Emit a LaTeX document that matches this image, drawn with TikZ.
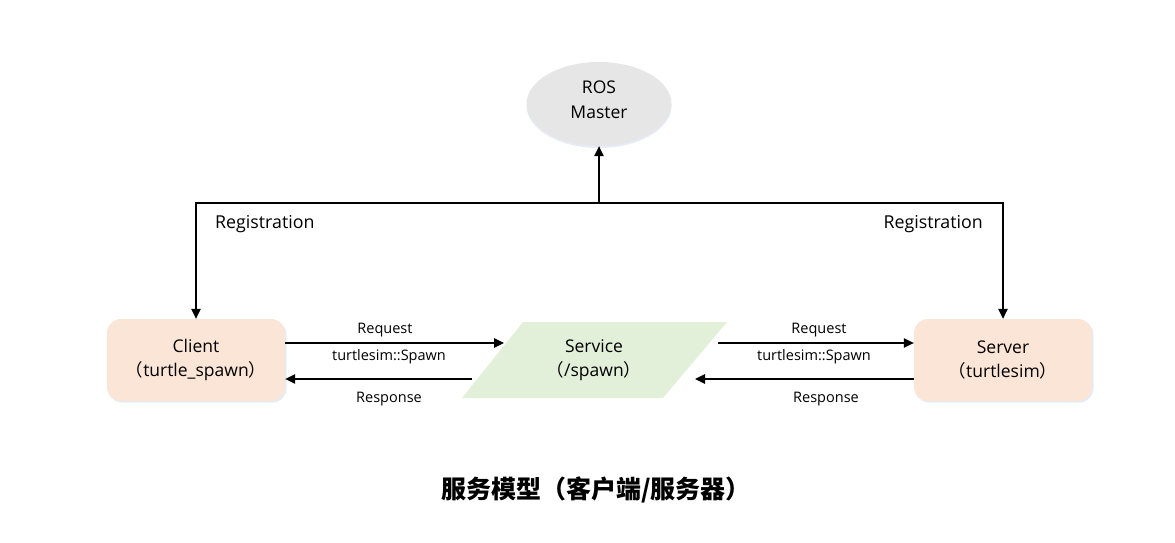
\documentclass[tikz,border=0pt]{standalone}
\usepackage{fontspec}
\setmainfont{Open Sans}
\newfontfamily\cjk{Noto Sans CJK SC}
\usetikzlibrary{arrows.meta,shapes.geometric}
\definecolor{peach}{RGB}{251,229,214}
\definecolor{mint}{RGB}{226,239,217}
\definecolor{mastergray}{RGB}{231,230,230}
\definecolor{glow}{RGB}{229,236,245}
\tikzset{
  arr/.style={line width=1.2pt,-{Triangle[length=10pt,width=9.5pt]}},
  procbox/.style={rounded corners=14pt,fill=peach,minimum width=178pt,minimum height=82pt,
    align=center,font=\fontsize{17.5}{24}\selectfont,inner sep=0pt},
  lbl/.style={font=\fontsize{14.5}{16}\selectfont,inner sep=0pt},
  reglbl/.style={font=\fontsize{17.8}{20}\selectfont,inner sep=0pt},
}
\begin{document}
\begin{tikzpicture}[x=1pt,y=-1pt]
\useasboundingbox (0,0) rectangle (1175,543);
% ROS master
\fill[glow] (599,105.5) ellipse (72.5 and 42.5);
\node[ellipse,fill=mastergray,minimum width=145pt,minimum height=84pt,inner sep=0pt] (master) at (599,104) {};
\node[align=center,font=\fontsize{17.5}{25}\selectfont,inner sep=0pt] (mastertext) at (599,100) {ROS\\Master};
% client and server
\fill[glow,rounded corners=14pt] (108,320.5) rectangle (286.5,402.5);
\fill[glow,rounded corners=14pt] (915,320.5) rectangle (1093.5,402.5);
\node[procbox] (client) at (196,360) {Client\\{\cjk （}turtle\_spawn{\cjk ）}};
\node[procbox] (server) at (1003,360) {Server\\{\cjk （}turtlesim{\cjk ）}};
% service parallelogram
\coordinate (s1) at (523,322);
\coordinate (s2) at (727,322);
\coordinate (s3) at (663,398);
\coordinate (s4) at (462,398);
\fill[mint] (s1) -- (s2) -- (s3) -- (s4) -- cycle;
\node[align=center,font=\fontsize{17.5}{24}\selectfont,inner sep=0pt] (service) at (594,360)
  {Service\\{\cjk （}/spawn{\cjk ）}};
% registration lines
\coordinate (hub) at (599,203);
\draw[arr] (hub) -- (master);
\draw[arr] (hub) -| (client);
\draw[arr] (hub) -| (server);
\node[reglbl,anchor=west] (regL) at (215,224) {Registration};
\node[reglbl,anchor=east] (regR) at (983,224) {Registration};
% client <-> service
\coordinate (svcInL) at (504,343);
\coordinate (svcOutL) at (472,379);
\coordinate (svcInR) at (718,343);
\coordinate (svcOutR) at (695,379);
\draw[arr] (client.east |- svcInL) -- (svcInL);
\draw[arr] (svcOutL) -- (client.east |- svcOutL);
\draw[arr] (svcInR) -- (server.west |- svcInR);
\draw[arr] (server.west |- svcOutR) -- (svcOutR);
\node[lbl] (reqL) at (385,330) {Request};
\node[lbl] (typL) at (389,357) {turtlesim::Spawn};
\node[lbl] (resL) at (389,399) {Response};
\node[lbl] (reqR) at (819,330) {Request};
\node[lbl] (typR) at (814,357) {turtlesim::Spawn};
\node[lbl] (resR) at (826,399) {Response};
% title
\node[font=\cjk\bfseries\fontsize{25}{28}\selectfont,inner sep=0pt] (title) at (596,490)
  {服务模型（客户端/服务器）};
\end{tikzpicture}
\end{document}
